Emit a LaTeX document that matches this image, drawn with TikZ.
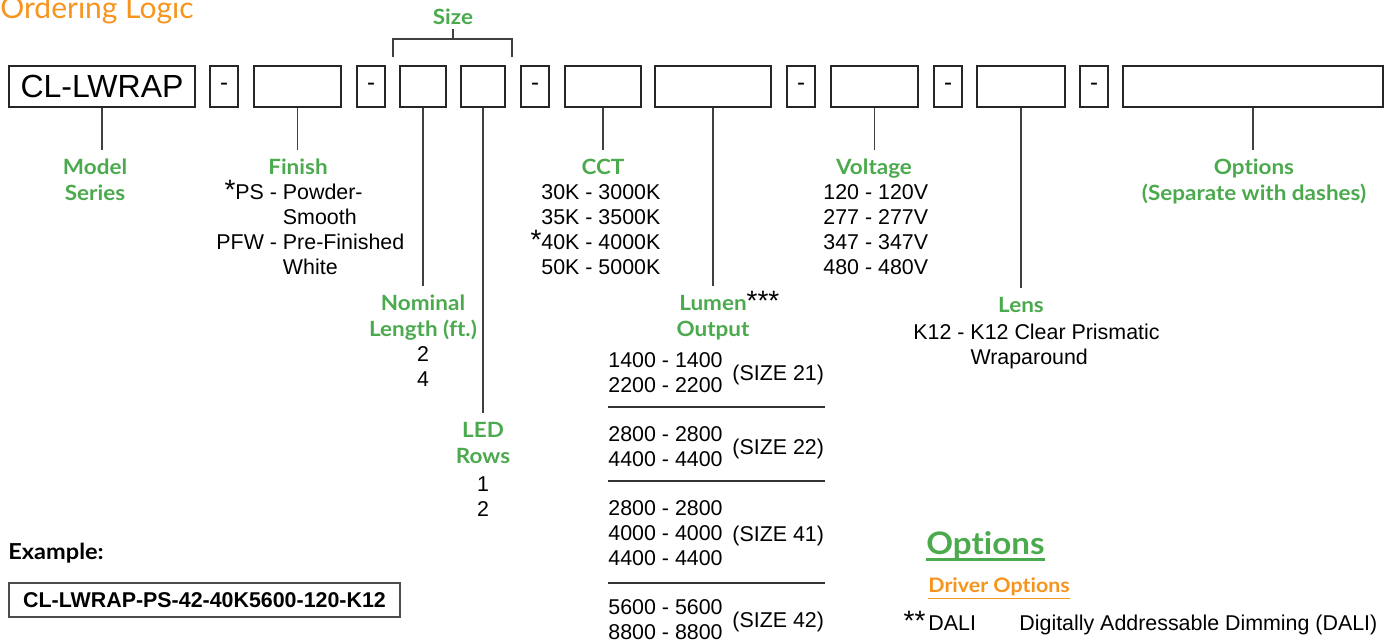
\documentclass[tikz,border=0pt]{standalone}
\usepackage{fontspec}
\setmainfont{Liberation Sans}
\newfontfamily\hdfont{Lato}
\newfontfamily\hdwide[FakeStretch=1.07, Ligatures={NoCommon}]{Lato}
\usetikzlibrary{positioning}
\definecolor{hdgreen}{RGB}{76,170,78}
\definecolor{hdorange}{RGB}{247,148,29}
\newcommand{\headcell}[1]{\begin{tabular}[t]{@{}c@{}}#1\end{tabular}}
\newcommand{\listcell}[2]{\begin{tabular}[t]{@{}#1@{}}#2\end{tabular}}
\newcommand{\bigast}[1]{\smash{\fontsize{14}{14}\selectfont#1}}

\begin{document}
\begin{tikzpicture}[x=0.5pt, y=-0.5pt,
    cell/.style={draw=black!85, line width=0.7pt, minimum height=20.5pt, inner sep=0pt, font=\fontsize{12}{14}\selectfont},
    hdr/.style={text=hdgreen, font=\hdwide\bfseries\fontsize{10.5}{13}\selectfont, anchor=base, inner sep=3pt},
    lst/.style={font=\fontsize{10.7}{12.5}\selectfont, inner sep=0pt, anchor=base west},
    link/.style={draw=black!75, line width=0.6pt}]
          \useasboundingbox (0,0) rectangle (1391,640);
          \node[anchor=base west, inner sep=0pt, text=hdorange, font=\hdfont\fontsize{15}{18}\selectfont] (title) at (0,19) {Ordering Logic};

          % code boxes
          \node[cell, minimum width=93pt, font=\fontsize{16}{18}\selectfont] (model) at (102,86.5) {CL-LWRAP};
          \node[cell, minimum width=14pt] (d1) at (224,86.5) {-};
          \node[cell, minimum width=43.5pt] (finish) at (297.5,86.5) {};
          \node[cell, minimum width=14pt] (d2) at (371,86.5) {-};
          \node[cell, minimum width=23pt] (length) at (423,86.5) {};
          \node[cell, minimum width=22pt] (rows) at (483,86.5) {};
          \node[cell, minimum width=14pt] (d3) at (535,86.5) {-};
          \node[cell, minimum width=38pt] (cct) at (603,86.5) {};
          \node[cell, minimum width=58pt] (lumen) at (713,86.5) {};
          \node[cell, minimum width=14pt] (d4) at (801,86.5) {-};
          \node[cell, minimum width=43.5pt] (volt) at (874.5,86.5) {};
          \node[cell, minimum width=14pt] (d5) at (948,86.5) {-};
          \node[cell, minimum width=44pt] (lens) at (1021,86.5) {};
          \node[cell, minimum width=14pt] (d6) at (1094,86.5) {-};
          \node[cell, minimum width=130pt] (options) at (1253,86.5) {};

          % size bracket
          \node[hdr, inner sep=1.5pt] (sizehdr) at (453,25) {Size};
          \draw[link] (393,57) |- (512,39) -- (512,57);
          \draw[link] (sizehdr.south) -- ++(0,11);

          % headings
          \node[hdr] (modelhdr) at (95,174.5) {\headcell{Model\\Series}};
          \node[hdr] (finishhdr) at (298,174.5) {\headcell{Finish}};
          \node[hdr] (ccthdr) at (603,174.5) {\headcell{CCT}};
          \node[hdr] (volthdr) at (874,174.5) {\headcell{Voltage}};
          \node[hdr] (optionshdr) at (1254,174.5) {\headcell{Options\\(Separate with dashes)}};
          \node[hdr] (lengthhdr) at (423,310.5) {\headcell{Nominal\\Length (ft.)}};
          \node[hdr] (lumenhdr) at (713,310.5) {\headcell{Lumen\rlap{\textcolor{black}{\normalfont\bigast{***}}}\\Output}};
          \node[hdr] (lenshdr) at (1021,312.5) {\headcell{Lens}};
          \node[hdr] (rowshdr) at (483,437.5) {\headcell{LED\\Rows}};

          \draw[link] (model.south) -- (model.south |- modelhdr.north);
          \draw[link] (finish.south) -- (finish.south |- finishhdr.north);
          \draw[link] (length.south) -- (length.south |- lengthhdr.north);
          \draw[link] (rows.south) -- (rows.south |- rowshdr.north);
          \draw[link] (cct.south) -- (cct.south |- ccthdr.north);
          \draw[link] (lumen.south) -- (lumen.south |- lumenhdr.north);
          \draw[link] (volt.south) -- (volt.south |- volthdr.north);
          \draw[link] (lens.south) -- (lens.south |- lenshdr.north);
          \draw[link] (options.south) -- (options.south |- optionshdr.north);

          % value lists
          \node[lst] (finishlst) at (216,200) {\listcell{r@{ }c@{ }l}{\bigast{*}PS & - & Powder-\\ & & Smooth\\ PFW & - & Pre-Finished\\ & & White}};
          \node[lst] (cctlst) at (541,200) {\listcell{l}{30K - 3000K\\35K - 3500K\\\llap{\bigast{*}}40K - 4000K\\50K - 5000K}};
          \node[lst] (voltlst) at (823,200) {\listcell{l}{120 - 120V\\277 - 277V\\347 - 347V\\480 - 480V}};
          \node[lst, anchor=base] (lengthlst) at (423,361.5) {\listcell{c}{2\\4}};
          \node[lst, anchor=base] (rowslst) at (483,492) {\listcell{c}{1\\2}};
          \node[lst] (lenslst) at (913,339.5) {\listcell{r@{ }c@{ }l}{K12 & - & K12 Clear Prismatic\\ & & Wraparound}};

          \node[lst] (lum21) at (608,367.5) {\listcell{l}{1400 - 1400\\2200 - 2200}};
          \node[lst, right=4.5pt of lum21] (size21) {(SIZE 21)};
          \node[lst] (lum22) at (608,441.5) {\listcell{l}{2800 - 2800\\4400 - 4400}};
          \node[lst, right=4.5pt of lum22] (size22) {(SIZE 22)};
          \node[lst] (lum41) at (608,515.5) {\listcell{l}{2800 - 2800\\4000 - 4000\\4400 - 4400}};
          \node[lst, right=4.5pt of lum41] (size41) {(SIZE 41)};
          \node[lst] (lum42) at (608,614.5) {\listcell{l}{5600 - 5600\\8800 - 8800}};
          \node[lst, right=4.5pt of lum42] (size42) {(SIZE 42)};
          \foreach \y in {407,481,583}
            \draw[black!80, line width=0.6pt] (608,\y) -- (825,\y);

          % example
          \node[anchor=base west, inner sep=0pt, font=\hdwide\bfseries\fontsize{11}{13}\selectfont] (exlbl) at (8,559.5) {Example:};
          \node[draw=black!70, line width=0.6pt, minimum width=195.5pt, minimum height=17pt, inner sep=0pt, font=\bfseries\fontsize{10.7}{12}\selectfont] (exbox) at (204.5,600) {CL-LWRAP-PS-42-40K5600-120-K12};

          % options legend
          \node[anchor=base west, inner sep=0pt, text=hdgreen, font=\hdwide\bfseries\fontsize{15.5}{18}\selectfont] (optbig) at (926,554) {Options};
          \draw[hdgreen, line width=1.2pt] (optbig.south west) -- (optbig.south east);
          \node[anchor=base west, inner sep=0pt, text=hdorange, font=\hdwide\bfseries\fontsize{10}{12}\selectfont] (driver) at (928,592.5) {Driver Options};
          \draw[hdorange, line width=0.6pt] ([yshift=-1pt]driver.south west) -- ([yshift=-1pt]driver.south east);
          \node[lst] (dali) at (928,630.5) {\llap{\bigast{**}\kern1.5pt}DALI};
          \node[lst] (dalitxt) at (1019,630.5) {Digitally Addressable Dimming (DALI)};
    \end{tikzpicture}
\end{document}
